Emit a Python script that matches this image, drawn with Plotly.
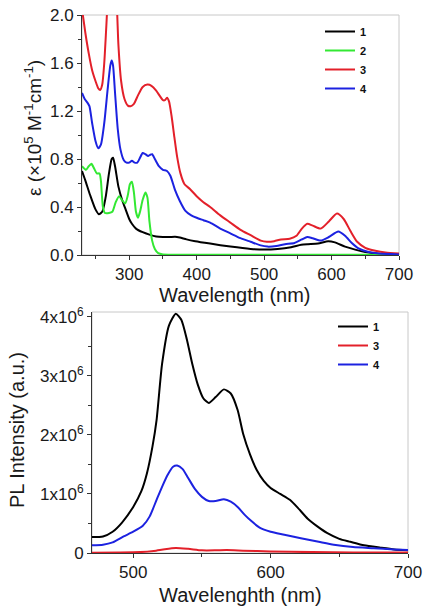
import plotly.graph_objects as go

# ---------------- Top panel: absorption (epsilon, x10^5 M^-1 cm^-1) ----------------
abs_wl_1 = [230, 235, 242, 250, 255, 260, 265, 270, 274, 276, 279, 284, 290, 294, 300, 304, 310, 320, 330,
            340, 350, 360, 368, 375, 385, 398, 420, 450, 480, 500, 520, 540, 555, 565, 580, 595, 605, 620,
            635, 650, 670, 700]
abs_eps_1 = [0.70, 0.62, 0.50, 0.38, 0.34, 0.36, 0.48, 0.68, 0.80, 0.81, 0.74, 0.57, 0.45, 0.39, 0.30, 0.26,
             0.22, 0.19, 0.17, 0.155, 0.15, 0.15, 0.152, 0.145, 0.13, 0.115, 0.095, 0.07, 0.05, 0.045, 0.05,
             0.065, 0.085, 0.09, 0.095, 0.115, 0.105, 0.07, 0.045, 0.025, 0.01, 0.005]

abs_wl_2 = [230, 236, 240, 244, 248, 252, 256, 258, 261, 264, 270, 275, 280, 285, 289, 294, 298, 301, 304,
            307, 310, 313, 316, 320, 324, 327, 330, 334, 338, 343, 350, 400, 700]
abs_eps_2 = [0.74, 0.71, 0.74, 0.76, 0.72, 0.68, 0.68, 0.62, 0.40, 0.35, 0.35, 0.36, 0.44, 0.49, 0.46, 0.43,
             0.50, 0.59, 0.61, 0.52, 0.36, 0.31, 0.36, 0.46, 0.52, 0.48, 0.28, 0.12, 0.05, 0.015, 0.005,
             0.003, 0.003]

abs_wl_3 = [230, 235, 240, 245, 250, 254, 257, 260, 263, 266, 269, 275, 281, 284, 288, 293, 298, 302, 307,
            313, 320, 327, 333, 340, 346, 350, 353, 356, 359, 363, 367, 371, 376, 382, 390, 400, 410, 420,
            435, 450, 465, 480, 495, 504, 515, 525, 538, 548, 556, 564, 572, 584, 596, 608, 618, 628, 638,
            650, 665, 680, 700]
abs_eps_3 = [2.05, 1.85, 1.68, 1.54, 1.45, 1.39, 1.375, 1.42, 1.6, 1.9, 2.2, 2.45, 2.15, 1.75, 1.45, 1.3,
             1.245, 1.24, 1.26, 1.33, 1.40, 1.42, 1.41, 1.37, 1.32, 1.29, 1.29, 1.31, 1.28, 1.15, 0.98, 0.82,
             0.68, 0.59, 0.55, 0.49, 0.44, 0.40, 0.33, 0.27, 0.21, 0.165, 0.12, 0.11, 0.115, 0.13, 0.135,
             0.16, 0.22, 0.26, 0.245, 0.22, 0.28, 0.345, 0.30, 0.20, 0.11, 0.06, 0.035, 0.02, 0.012]

abs_wl_4 = [230, 234, 238, 241, 245, 250, 254, 258, 263, 268, 272, 274, 276, 279, 283, 287, 292, 296, 300,
            304, 308, 312, 316, 320, 324, 328, 331, 334, 338, 344, 350, 356, 361, 368, 375, 383, 392, 400,
            410, 420, 435, 450, 465, 480, 495, 505, 518, 531, 545, 556, 564, 572, 584, 596, 610, 620, 630,
            640, 655, 670, 700]
abs_eps_4 = [1.35, 1.30, 1.27, 1.24, 1.10, 0.95, 0.89, 0.92, 1.10, 1.38, 1.58, 1.62, 1.58, 1.35, 1.05, 0.88,
             0.79, 0.77, 0.77, 0.785, 0.77, 0.77, 0.81, 0.85, 0.84, 0.825, 0.835, 0.84, 0.80, 0.74, 0.71,
             0.70, 0.66, 0.54, 0.45, 0.37, 0.33, 0.31, 0.29, 0.27, 0.22, 0.18, 0.14, 0.11, 0.08, 0.07,
             0.075, 0.09, 0.10, 0.13, 0.15, 0.14, 0.12, 0.15, 0.195, 0.16, 0.10, 0.055, 0.025, 0.012, 0.005]

abs_yticks = [0.0, 0.4, 0.8, 1.2, 1.6, 2.0]
abs_xticks = [300, 400, 500, 600, 700]

# ---------------- Bottom panel: PL intensity (units of 10^6) ----------------
pl_wl_1 = [470, 478, 485, 492, 500, 506, 510, 514, 517, 521, 526, 531, 535, 539, 543, 547, 551, 555, 560,
           566, 571, 576, 580, 585, 590, 595, 600, 607, 614, 620, 627, 634, 641, 650, 658, 668, 680, 690, 700]
pl_int_1 = [0.27, 0.28, 0.36, 0.52, 0.78, 1.05, 1.35, 1.8, 2.25, 3.2, 3.85, 4.05, 3.95, 3.62, 3.2, 2.85,
            2.62, 2.54, 2.64, 2.77, 2.7, 2.42, 2.02, 1.67, 1.4, 1.22, 1.1, 1.0, 0.9, 0.76, 0.58, 0.45, 0.34,
            0.24, 0.19, 0.13, 0.09, 0.06, 0.045]

pl_wl_3 = [470, 490, 505, 515, 523, 531, 540, 550, 560, 568, 580, 600, 630, 660, 700]
pl_int_3 = [0.005, 0.008, 0.015, 0.035, 0.065, 0.085, 0.07, 0.045, 0.045, 0.05, 0.04, 0.025, 0.015, 0.01,
            0.008]

pl_wl_4 = [470, 478, 485, 493, 500, 507, 512, 517, 521, 525, 529, 532, 536, 540, 545, 550, 555, 560, 566,
           571, 576, 581, 586, 592, 600, 610, 622, 635, 646, 660, 675, 690, 700]
pl_int_4 = [0.13, 0.14, 0.18, 0.28, 0.36, 0.46, 0.62, 0.9, 1.12, 1.32, 1.46, 1.48, 1.42, 1.27, 1.08, 0.95,
            0.88, 0.88, 0.91, 0.87, 0.78, 0.65, 0.54, 0.43, 0.36, 0.31, 0.25, 0.19, 0.14, 0.10, 0.08, 0.06,
            0.05]

pl_yticks = [0, 1, 2, 3, 4]
pl_yticktext = ["0", "1x10<sup>6</sup>", "2x10<sup>6</sup>", "3x10<sup>6</sup>", "4x10<sup>6</sup>"]
pl_xticks = [500, 600, 700]

colors = {"1": "#000000", "2": "#33e833", "3": "#e3202a", "4": "#1c22e0"}

FONT = "Liberation Sans, Arial, Helvetica, sans-serif"
W, H = 432, 612

fig = go.Figure()

for lab, xs, ys in [("1", abs_wl_1, abs_eps_1), ("2", abs_wl_2, abs_eps_2),
                    ("3", abs_wl_3, abs_eps_3), ("4", abs_wl_4, abs_eps_4)]:
    fig.add_trace(go.Scatter(x=xs, y=ys, mode="lines", name="<b>%s</b>" % lab,
                             line=dict(color=colors[lab], width=2, shape="spline", smoothing=0.6),
                             xaxis="x", yaxis="y", legend="legend"))

for lab, xs, ys in [("1", pl_wl_1, pl_int_1), ("3", pl_wl_3, pl_int_3), ("4", pl_wl_4, pl_int_4)]:
    fig.add_trace(go.Scatter(x=xs, y=ys, mode="lines", name="<b>%s</b>" % lab,
                             line=dict(color=colors[lab], width=2, shape="spline", smoothing=0.6),
                             xaxis="x2", yaxis="y2", legend="legend2"))

# pixel-derived domains
top_x = [82 / W, 399 / W]
top_y = [1 - 255 / H, 1 - 15 / H]
bot_x = [92 / W, 408 / W]
bot_y = [1 - 553 / H, 1 - 312 / H]

axis_common = dict(showline=True, linecolor="#333333", linewidth=1, ticks="outside", ticklen=4,
                   tickcolor="#333333", showgrid=False, zeroline=False, automargin=False,
                   tickfont=dict(family=FONT, size=17, color="#1a1a1a"))

fig.update_layout(
    template="none",
    width=W, height=H, margin=dict(l=0, r=0, t=0, b=0, pad=0, autoexpand=False),
    paper_bgcolor="white", plot_bgcolor="white",
    font=dict(family=FONT, color="#1a1a1a"),
    xaxis=dict(domain=top_x, range=[230, 700], tickvals=abs_xticks, anchor="y",
               minor=dict(ticks="outside", ticklen=3, dtick=50, tick0=250, tickcolor="#333333"),
               **axis_common),
    yaxis=dict(domain=top_y, range=[0, 2.0], tickvals=abs_yticks, tickformat=".1f", anchor="x",
               minor=dict(ticks="outside", ticklen=3, dtick=0.2, tick0=0, tickcolor="#333333"),
               **axis_common),
    xaxis2=dict(domain=bot_x, range=[470, 700], tickvals=pl_xticks, anchor="y2",
                minor=dict(ticks="outside", ticklen=3, dtick=50, tick0=500, tickcolor="#333333"),
                **axis_common),
    yaxis2=dict(domain=bot_y, range=[0, 4.08], tickvals=pl_yticks, ticktext=pl_yticktext, anchor="x2",
                minor=dict(ticks="outside", ticklen=3, dtick=0.5, tick0=0, tickcolor="#333333"),
                **axis_common),
    legend=dict(x=320 / W, y=1 - 17 / H, xanchor="left", yanchor="top", bgcolor="rgba(0,0,0,0)",
                font=dict(family=FONT, size=11, color="#111111"), itemwidth=30, tracegroupgap=0),
    legend2=dict(x=333 / W, y=1 - 312 / H, xanchor="left", yanchor="top", bgcolor="rgba(0,0,0,0)",
                 font=dict(family=FONT, size=11, color="#111111"), itemwidth=30, tracegroupgap=0),
    showlegend=True,
)

# light grey frame on the top/right sides
for xr, yr in [("x domain", "y domain"), ("x2 domain", "y2 domain")]:
    fig.add_shape(type="rect", xref=xr, yref=yr, x0=0, x1=1, y0=0, y1=1,
                  line=dict(color="#c8c8c8", width=1), layer="below")

# axis titles
ann_font = dict(family=FONT, size=20, color="#1a1a1a")
fig.add_annotation(text="ε (×10<sup>5</sup> M<sup>-1</sup>cm<sup>-1</sup>)", x=33 / W, y=1 - 128 / H,
                   xref="paper", yref="paper", textangle=-90, showarrow=False,
                   xanchor="center", yanchor="middle", font=dict(family=FONT, size=19, color="#1a1a1a"))
fig.add_annotation(text="Wavelength (nm)", x=235 / W, y=1 - 295 / H, xref="paper", yref="paper",
                   xanchor="center", yanchor="middle", showarrow=False, font=ann_font)
fig.add_annotation(text="PL Intensity (a.u.)", x=17 / W, y=1 - 430 / H, xref="paper", yref="paper",
                   xanchor="center", yanchor="middle", textangle=-90, showarrow=False, font=ann_font)
fig.add_annotation(text="Wavelenghth (nm)", x=240 / W, y=1 - 595 / H, xref="paper", yref="paper",
                   xanchor="center", yanchor="middle", showarrow=False, font=ann_font)

fig.write_html("out.html", config={"displayModeBar": False},
               post_script="document.body.style.margin='0px';document.body.style.overflow='hidden';")
